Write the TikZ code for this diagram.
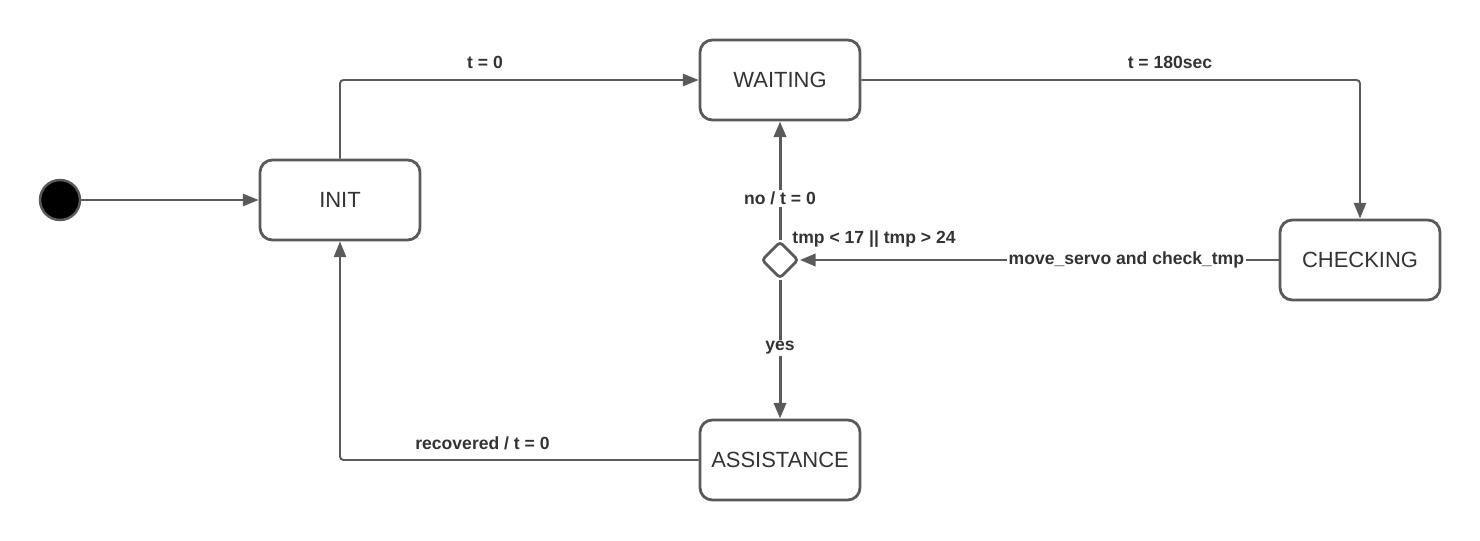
\documentclass[tikz,border=0pt]{standalone}
\usepackage{fontspec}
\setmainfont{Liberation Sans}
\usetikzlibrary{arrows.meta, shapes.geometric}

\definecolor{linegray}{HTML}{5A5A5A}
\definecolor{textgray}{HTML}{333333}

\begin{document}
\begin{tikzpicture}[
    scale=1,
    >={Triangle[length=9pt, width=7pt]},
    state/.style={draw=linegray, line width=1.6pt, rounded corners=7pt,
        minimum width=3.2cm, minimum height=1.6cm, text=textgray,
        font=\fontsize{12.5}{14}\selectfont},
    choice/.style={diamond, draw=linegray, line width=1.6pt, rounded corners=2pt,
        minimum width=0.74cm, minimum height=0.74cm, inner sep=0pt},
    flow/.style={->, draw=linegray, line width=1.1pt, rounded corners=2pt},
    guard/.style={->, draw=linegray, line width=1.7pt},
    tag/.style={text=textgray, font=\fontsize{10}{12}\selectfont\bfseries, inner sep=1pt}]

    \useasboundingbox (0,0) rectangle (29.6,10.8);

    % states
    \node[circle, fill=black, draw=linegray, line width=1.4pt, minimum size=0.8cm] (start) at (1.2,6.8) {};
    \node[state] (init) at (6.8,6.8) {INIT};
    \node[state] (waiting) at (15.6,9.2) {WAITING};
    \node[state] (checking) at (27.2,5.6) {CHECKING};
    \node[state] (assistance) at (15.6,1.6) {ASSISTANCE};
    \node[choice] (tmpcheck) at (15.6,5.6) {};

    % start
    \draw[flow] (start) -- (init);

    % init to waiting
    \draw[flow] (init.north) |- (waiting.west);
    \node[tag] (lblinit) at (9.7,9.56) {t = 0};

    % waiting to checking
    \draw[flow] (waiting.east) -| (checking.north);
    \node[tag] (lbltimer) at (23.4,9.56) {t = 180sec};

    % checking to choice
    \draw[guard] (checking.west) -- node[tag, fill=white, pos=0.318] (lblservo) {move\_servo and check\_tmp} (tmpcheck.east);
    \node[tag] (lblrange) at (17.48,6.02) {tmp < 17 || tmp > 24};

    % choice outcomes
    \draw[guard] (tmpcheck.north) -- node[tag, fill=white, pos=0.35] (lblno) {no / t = 0} (waiting.south);
    \draw[guard] (tmpcheck.south) -- node[tag, fill=white, pos=0.49] (lblyes) {yes} (assistance.north);

    % assistance back to init
    \draw[flow] (assistance.west) -| (init.south);
    \node[tag] (lblrecover) at (9.65,1.94) {recovered / t = 0};

\end{tikzpicture}
\end{document}
